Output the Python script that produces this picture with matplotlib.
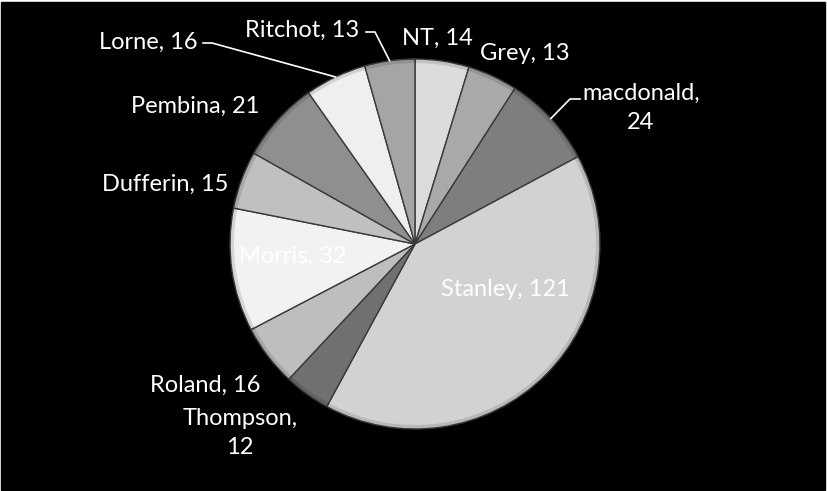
import numpy as np
import matplotlib.pyplot as plt
from matplotlib.patches import Wedge

names = ["NT", "Grey", "macdonald", "Stanley", "Thompson", "Roland",
         "Morris", "Dufferin", "Pembina", "Lorne", "Ritchot"]
counts = [14, 13, 24, 121, 12, 16, 32, 15, 21, 16, 13]
shades = ["#dcdcdc", "#a9a9a9", "#7e7e7e", "#d2d2d2", "#707070", "#bebebe",
          "#f2f2f2", "#c0c0c0", "#8f8f8f", "#efefef", "#a5a5a5"]

W, H = 827, 491
fig = plt.figure(figsize=(W / 100, H / 100), dpi=100)
fig.patch.set_facecolor("white")
ax = fig.add_axes([0, 0, 1, 1])

cx, cy, r = 415, H - 244, 185
wedges, _ = ax.pie(counts, colors=shades, startangle=90, counterclock=False,
                   center=(cx, cy), radius=r, frame=True,
                   wedgeprops=dict(edgecolor="#3a3a3a", linewidth=1.0))
ax.set_xlim(0, W)
ax.set_ylim(0, H)
ax.set_aspect("equal")
ax.axis("off")
ax.add_patch(plt.Rectangle((1, 1), W - 3, H - 3, color="black", zorder=0))

# soft bevel: darker outer rim
for w in wedges:
    ax.add_patch(Wedge((cx, cy), r, w.theta1, w.theta2, width=4,
                       color="black", alpha=0.12, lw=0))

font = "Lato"
fs = 17

# label anchors (pixel coords measured from top)
labels = {
    "NT": (437, 38, "center"),
    "Grey": (525, 53, "center"),
    "macdonald": (641, 108, "center"),
    "Stanley": (505, 290, "center"),
    "Thompson": (240, 433, "center"),
    "Roland": (205, 385, "center"),
    "Morris": (293, 256, "center"),
    "Dufferin": (165, 184, "center"),
    "Pembina": (195, 106, "center"),
    "Lorne": (198, 42, "right"),
    "Ritchot": (359, 30, "right"),
}
two_line = {"macdonald", "Thompson"}
for name, val in zip(names, counts):
    x, y, ha = labels[name]
    sep = ",\n" if name in two_line else ", "
    ax.text(x, H - y, f"{name}{sep}{val}", color="white", fontsize=fs,
            family=font, ha=ha, va="center", linespacing=1.5,
            multialignment="center")

# leader lines to the rim at wedge mid-angle
leaders = {"Lorne": (203, 212, 43), "Ritchot": (366, 375, 32),
           "macdonald": (580, 570, 99)}
for w, name in zip(wedges, names):
    if name in leaders:
        x0, x1, y0 = leaders[name]
        a = np.deg2rad((w.theta1 + w.theta2) / 2)
        ex, ey = cx + r * np.cos(a), cy + r * np.sin(a)
        ax.plot([x0, x1, ex], [H - y0, H - y0, ey], color="white", lw=1.2)

fig.savefig("out.png", dpi=100, facecolor=fig.get_facecolor())
